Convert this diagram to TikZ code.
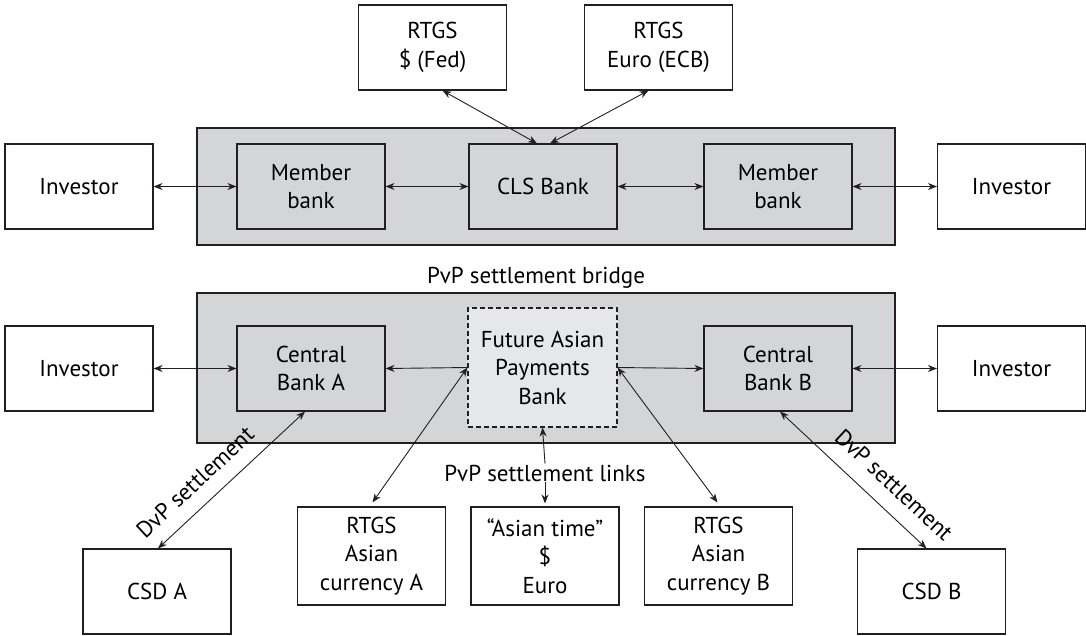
\documentclass[tikz,border=0pt]{standalone}
\usepackage{fontspec}
\setmainfont{PT Sans}
\usetikzlibrary{arrows.meta,calc}
\definecolor{ink}{HTML}{231F20}
\definecolor{panel}{HTML}{D4D5D7}
\definecolor{light}{HTML}{E6E7E8}
\tikzset{
  box/.style={draw=ink, line width=1.1pt, fill=white, minimum width=148pt, minimum height=85pt, align=center, inner sep=0pt, font=\fontsize{23}{28.5}\selectfont},
  graybox/.style={box, fill=panel},
  panelbox/.style={draw=ink, line width=1.1pt, fill=panel, inner sep=0pt},
  dashbox/.style={box, fill=light, dash pattern=on 5pt off 3pt, minimum height=119pt, minimum width=149pt},
  tallbox/.style={box, minimum height=98pt},
  lab/.style={font=\fontsize{23}{28}\selectfont, inner sep=1pt},
  conn/.style={draw=ink, line width=0.9pt, {Stealth[length=9pt,width=7pt]}-{Stealth[length=9pt,width=7pt]}},
  oneway/.style={draw=ink, line width=0.9pt, -{Stealth[length=9pt,width=7pt]}}
}
\begin{document}
\begin{tikzpicture}[x=1pt,y=-1pt]
\useasboundingbox (0,0) rectangle (1086,635);
% top panel
\node[panelbox, minimum width=698pt, minimum height=117pt] (toppanel) at (546,186.5) {};
\node[box] (rtgsusd) at (432.5,47.5) {RTGS\\\$ (Fed)};
\node[box] (rtgseur) at (658.5,47.5) {RTGS\\Euro (ECB)};
\node[box] (inv1) at (79,186.5) {Investor};
\node[graybox] (mem1) at (311,186.5) {Member\\bank};
\node[graybox] (cls) at (543,186.5) {CLS Bank};
\node[graybox] (mem2) at (778,186.5) {Member\\bank};
\node[box] (inv2) at (1011.5,186.5) {Investor};
% bottom panel
\node[lab] (bridge) at (536,278) {PvP settlement bridge};
\node[panelbox, minimum width=698pt, minimum height=150pt] (botpanel) at (546,368) {};
\node[box] (inv3) at (79,368.5) {Investor};
\node[graybox] (cba) at (311,368.5) {Central\\Bank A};
\node[dashbox] (fapb) at (542.5,367.5) {Future Asian\\Payments\\Bank};
\node[graybox] (cbb) at (778,368.5) {Central\\Bank B};
\node[box] (inv4) at (1011.5,368.5) {Investor};
\node[lab] (links) at (545,473) {PvP settlement links};
\node[tallbox] (rtgsa) at (371.5,556) {RTGS\\Asian\\currency A};
\node[tallbox] (asian) at (545,556) {“Asian time”\\\$\\Euro};
\node[tallbox] (rtgsb) at (718.5,556) {RTGS\\Asian\\currency B};
\node[box] (csda) at (157,591.5) {CSD A};
\node[box] (csdb) at (931.5,591.5) {CSD B};
% top connectors
\draw[conn] ($(rtgsusd.south)+(10,0)$) -- ($(cls.north)+(-6,0)$);
\draw[conn] ($(rtgseur.south)+(-10,0)$) -- ($(cls.north)+(7,0)$);
\draw[conn] (inv1.east) -- (mem1.west);
\draw[conn] (mem1.east) -- (cls.west);
\draw[conn] (cls.east) -- (mem2.west);
\draw[conn] (mem2.east) -- (inv2.west);
% bottom connectors
\draw[conn] (inv3.east) -- (cba.west);
\draw[oneway] (fapb.west) -- (cba.east);
\draw[oneway] (fapb.east) -- (cbb.west);
\draw[conn] (cbb.east) -- (inv4.west);
\draw[conn] (fapb.west) -- ($(rtgsa.north)+(1,-4)$);
\draw[conn] (fapb.east) -- ($(rtgsb.north)+(-1,-4)$);
\draw[oneway] (links.north) -- (fapb.south);
\draw[oneway] (links.south) -- ($(asian.north)+(0,-3)$);
\draw[conn] ($(cba.south)+(-6,0)$) -- ($(csda.north)+(1,0)$);
\draw[conn] ($(cbb.south)+(2,0)$) -- ($(csdb.north)+(-5,0)$);
\node[lab, rotate=43] (dvpa) at (195,482) {DvP settlement};
\node[lab, rotate=-43] (dvpb) at (894,485) {DvP settlement};
\end{tikzpicture}
\end{document}
